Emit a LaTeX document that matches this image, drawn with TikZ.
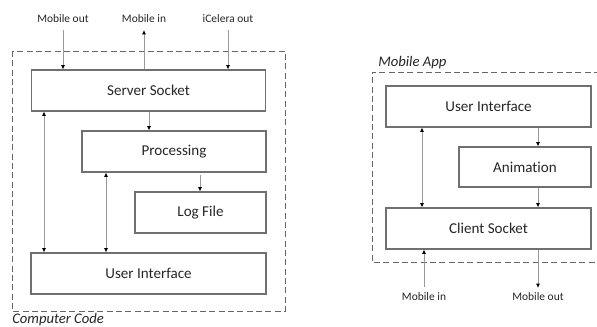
\documentclass[tikz,border=0pt]{standalone}
\usepackage{fontspec}
\setmainfont[Ligatures=NoCommon]{Carlito}
\usetikzlibrary{arrows.meta}
\definecolor{boxline}{HTML}{707070}
\definecolor{arrline}{HTML}{9A9A9A}
\tikzset{
  blk/.style={draw=boxline, line width=0.9pt, inner sep=0pt, font=\fontsize{11.3}{13}\selectfont, text=black!85},
  grp/.style={draw=black!60, line width=0.7pt, dash pattern=on 4.5pt off 2.5pt},
  lbl/.style={font=\fontsize{8.6}{10}\selectfont, text=black!85, inner sep=0pt},
  grplbl/.style={font=\fontsize{11}{13}\itshape\selectfont, text=black!85, inner sep=0pt, anchor=west},
  arr/.style={draw=arrline, line width=0.6pt, -{Latex[length=3.2pt,width=3pt,color=black]}},
  darr/.style={draw=arrline, line width=0.6pt, {Latex[length=3.2pt,width=3pt,color=black]}-{Latex[length=3.2pt,width=3pt,color=black]}}
}
\begin{document}
\begin{tikzpicture}[x=0.75pt,y=-0.75pt]
\useasboundingbox (0,0) rectangle (597,327);
% left group
\draw[grp] (12,51) rectangle (285,311);
\node[grplbl] (cc) at (12,320) {Computer Code};
\node[blk, minimum width=234*0.75pt, minimum height=41*0.75pt] (ss) at (148.5,90.5) {Server Socket};
\node[blk, minimum width=184*0.75pt, minimum height=41*0.75pt] (pr) at (174,151.5) {Processing};
\node[blk, minimum width=131*0.75pt, minimum height=41*0.75pt] (lf) at (200.5,212.5) {Log File};
\node[blk, minimum width=235*0.75pt, minimum height=41*0.75pt] (ui) at (148.5,273.5) {User Interface};
\node[lbl] (mo) at (63,19) {Mobile out};
\node[lbl] (mi) at (144,19) {Mobile in};
\node[lbl] (ic) at (228,19) {iCelera out};
\coordinate (mo1) at (63,30);
\coordinate (mi1) at (144,30);
\coordinate (ic1) at (228,30);
\draw[arr] (mo1) -- (mo1 |- ss.north);
\draw[arr] (mi1 |- ss.north) -- (mi1);
\draw[arr] (ic1) -- (ic1 |- ss.north);
\coordinate (a1) at (149,0);
\draw[arr] (a1 |- ss.south) -- (a1 |- pr.north);
\coordinate (a2) at (200,0);
\draw[arr] (200,175) -- (a2 |- lf.north);
\coordinate (a3) at (44,0);
\draw[darr] (a3 |- ss.south) -- (a3 |- ui.north);
\coordinate (a4) at (106,0);
\draw[darr] (a4 |- pr.south) -- (a4 |- ui.north);
% right group
\draw[grp] (600,72) -- (372,72) -- (372,262) -- (600,262);
\node[grplbl] (ma) at (378,63) {Mobile App};
\node[blk, minimum width=205*0.75pt, minimum height=41*0.75pt] (rui) at (488.5,106.5) {User Interface};
\node[blk, minimum width=132*0.75pt, minimum height=40*0.75pt] (an) at (525,167) {Animation};
\node[blk, minimum width=205*0.75pt, minimum height=41*0.75pt] (cs) at (488.5,228.5) {Client Socket};
\coordinate (b1) at (538,0);
\draw[arr] (b1 |- rui.south) -- (b1 |- an.north);
\draw[arr] (b1 |- an.south) -- (b1 |- cs.north);
\coordinate (b2) at (422,0);
\draw[darr] (b2 |- rui.south) -- (b2 |- cs.north);
\node[lbl] (rmi) at (424,297) {Mobile in};
\node[lbl] (rmo) at (538,297) {Mobile out};
\coordinate (c1) at (424,287);
\coordinate (c2) at (538,288);
\draw[arr] (c1) -- (c1 |- cs.south);
\draw[arr] (c2 |- cs.south) -- (c2);
\end{tikzpicture}
\end{document}
